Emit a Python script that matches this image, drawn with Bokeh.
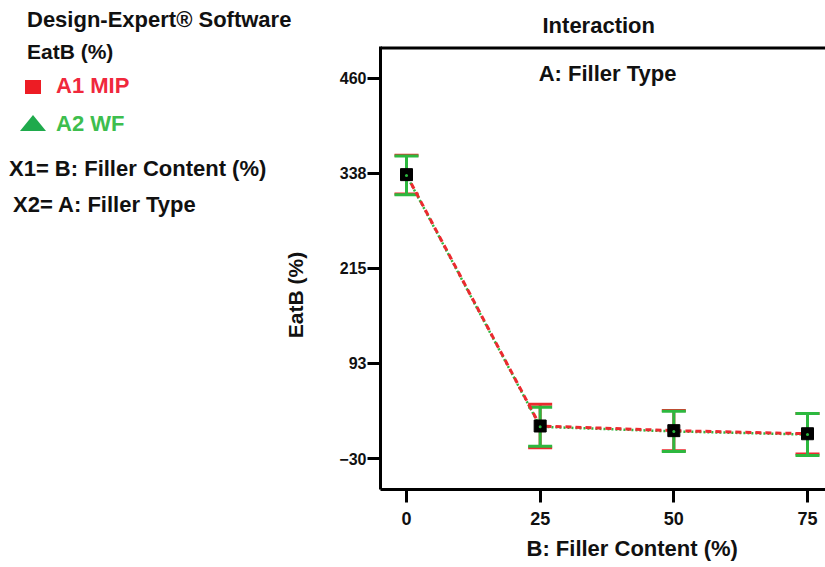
from bokeh.plotting import figure
from bokeh.layouts import row
from bokeh.models import (Range1d, FixedTicker, Label, Whisker, Span, Title, Div,
                          ColumnDataSource, TeeHead)
from bokeh.embed import file_html
from bokeh.resources import INLINE

# ---- data ----
filler_content = [0, 25, 50, 75]
mip_mean = [336, 12, 6, 2]
mip_err = [25, 28, 26, 26]
wf_mean = [335, 11, 5, 1]
wf_err = [25, 25, 26, 27]
y_ticks = [-30, 93, 215, 338, 460]
x_ticks = [0, 25, 50, 75]

series_names = ["A1 MIP", "A2 WF"]
header_lines = ["Design-Expert\u00ae Software", "EatB (%)"]
factor_lines = ["X1= B: Filler Content (%)", "X2= A: Filler Type"]

RED = "#EC2A2F"
GREEN = "#2DB83F"
FONT = "Liberation Sans"
INK = "#111111"

W, H = 825, 567
LEFT_W = 320          # width of the left text panel
FR_L, FR_T, FR_B = 380, 46, 490   # frame edges (page px)

# pixel -> data helpers for the chart
X0_PX, X_PER = 406.0, 401.0 / 75.0
Y0_PX, Y_PER = 78.0, 381.0 / 490.0


def dx(px):
    return (px - X0_PX) / X_PER


def dy(py):
    return 460 + (Y0_PX - py) / Y_PER


# ---------------- left text panel (HTML) ----------------
def text_html(text, left, baseline, size, color=INK):
    top = baseline - (size - 1.117 * size) / 2 - 0.905 * size
    return (f'<div style="position:absolute;left:{left}px;top:{top:.1f}px;'
            f'font:bold {size}px \'{FONT}\';line-height:{size}px;color:{color};'
            f'white-space:nowrap;">{text}</div>')


parts = [
    text_html(header_lines[0], 27, 28, 22),
    text_html(header_lines[1], 27, 59, 21),
    '<div style="position:absolute;left:25px;top:80px;width:16px;height:14px;'
    'background:#ED1C24;"></div>',
    text_html(series_names[0], 56, 94, 22, color="#F0283C"),
    '<div style="position:absolute;left:20px;top:115px;width:0;height:0;'
    'border-left:13px solid transparent;border-right:13px solid transparent;'
    'border-bottom:16px solid #1FAA4C;"></div>',
    text_html(series_names[1], 56, 132, 22, color="#3DBE4E"),
    text_html(factor_lines[0], 9, 177, 22),
    text_html(factor_lines[1], 13, 213, 22),
    # rotated y-axis title
    f'<div style="position:absolute;left:295px;top:295px;'
    f'transform:translate(-50%,-50%) rotate(-90deg);font:bold 21px \'{FONT}\';'
    f'line-height:21px;color:{INK};white-space:nowrap;">EatB (%)</div>',
]
left_div = Div(text=f'<div style="position:relative;width:{LEFT_W}px;height:{H}px;'
                    f'overflow:hidden;">' + "".join(parts) + '</div>',
               width=LEFT_W, height=H, margin=0,
               styles={"margin": "0", "padding": "0"})

# ---------------- chart ----------------
p = figure(width=W - LEFT_W, height=H,
           x_range=Range1d(dx(FR_L), dx(W)), y_range=Range1d(dy(FR_B), dy(FR_T)),
           output_backend="svg", toolbar_location=None,
           min_border_left=FR_L - LEFT_W, min_border_right=0,
           min_border_top=FR_T, min_border_bottom=H - FR_B)
p.outline_line_color = None
p.grid.visible = False
p.background_fill_color = "white"

for ax in (p.xaxis[0], p.yaxis[0]):
    ax.axis_line_width = 3
    ax.axis_line_color = "black"
    ax.major_tick_line_width = 3
    ax.major_tick_line_color = "black"
    ax.major_tick_in = 0
    ax.minor_tick_line_color = None
    ax.major_label_text_font = FONT
    ax.major_label_text_font_style = "bold"
    ax.major_label_text_color = INK

p.xaxis.ticker = FixedTicker(ticks=x_ticks)
p.yaxis.ticker = FixedTicker(ticks=y_ticks)
p.xaxis.major_tick_out = 13
p.yaxis.major_tick_out = 13
p.xaxis.major_label_standoff = 9
p.yaxis.major_label_standoff = 1
p.xaxis.major_label_text_font_size = "18px"
p.yaxis.major_label_text_font_size = "16px"

# top border of the frame
p.add_layout(Span(location=dy(FR_T), dimension="width", line_color="black", line_width=6))

# titles
p.title.text = "Interaction"
p.title.text_font = FONT
p.title.text_font_size = "22px"
p.title.text_font_style = "bold"
p.title.text_color = INK
p.title.align = "left"
p.title.offset = 162
p.title.standoff = 18
p.add_layout(Title(text="B: Filler Content (%)", text_font=FONT, text_font_size="22px",
                   text_font_style="bold", text_color=INK, align="left", offset=146,
                   standoff=13), "below")

# ---- series ----
src_mip = ColumnDataSource(dict(x=filler_content, y=mip_mean,
                                lo=[m - e for m, e in zip(mip_mean, mip_err)],
                                hi=[m + e for m, e in zip(mip_mean, mip_err)]))
src_wf = ColumnDataSource(dict(x=filler_content, y=wf_mean,
                               lo=[m - e for m, e in zip(wf_mean, wf_err)],
                               hi=[m + e for m, e in zip(wf_mean, wf_err)]))

for src, col in ((src_mip, RED), (src_wf, GREEN)):
    w = Whisker(source=src, base="x", lower="lo", upper="hi",
                line_color=col, line_width=3,
                lower_head=TeeHead(size=24, line_color=col, line_width=3),
                upper_head=TeeHead(size=24, line_color=col, line_width=3))
    p.add_layout(w)

p.line("x", "y", source=src_wf, line_color=GREEN, line_width=2.5, line_dash="2 2")
p.line("x", "y", source=src_mip, line_color=RED, line_width=3, line_dash="6 4")

p.scatter("x", "y", source=src_mip, marker="square", size=12,
          fill_color="black", line_color="black")
p.scatter("x", "y", source=src_wf, marker="circle", size=3,
          fill_color=GREEN, line_color=None)

p.add_layout(Label(x=dx(607), y=dy(86), text="A: Filler Type", text_font=FONT,
                   text_font_size="22px", text_font_style="bold", text_color=INK,
                   text_align="center"))

open("out.html", "w").write(file_html(row(left_div, p), INLINE))
